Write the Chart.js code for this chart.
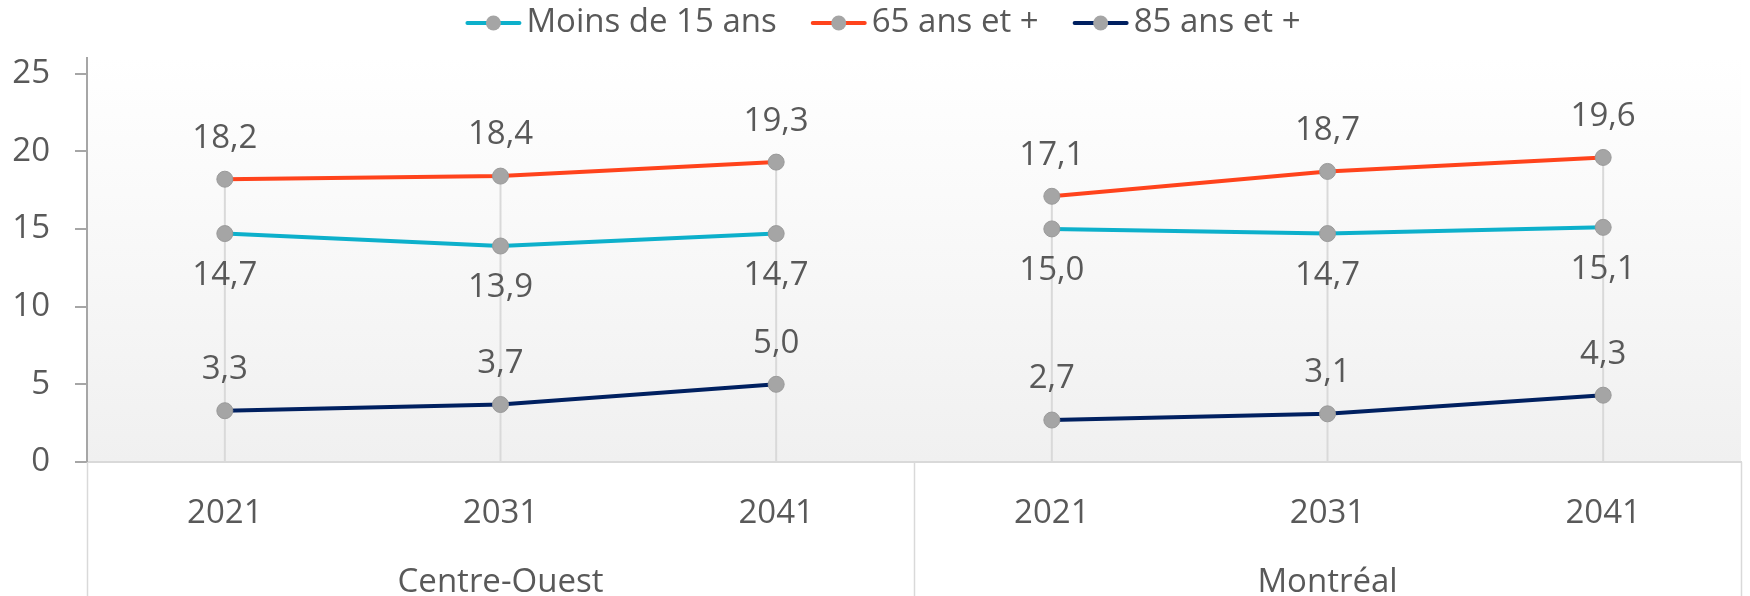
<!DOCTYPE html>
<html>
<head>
<meta charset="utf-8">
<script src="https://cdn.jsdelivr.net/npm/chart.js@4"></script>
<style>
  html, body { margin: 0; padding: 0; background: #fff; }
</style>
</head>
<body>
<canvas id="chart" width="1750" height="596"></canvas>
<script>
const groups = ['Centre-Ouest', 'Montréal'];
const years = ['2021', '2031', '2041'];
const seriesNames = ['Moins de 15 ans', '65 ans et +', '85 ans et +'];
const moins15 = [14.7, 13.9, 14.7, 15.0, 14.7, 15.1];
const plus65 = [18.2, 18.4, 19.3, 17.1, 18.7, 19.6];
const plus85 = [3.3, 3.7, 5.0, 2.7, 3.1, 4.3];
const yTicks = [0, 5, 10, 15, 20, 25];

const textColor = '#595959';
const font = { family: 'Open Sans', size: 33 };
const labels = groups.flatMap(() => years);

function fmt(v) {
    return v.toFixed(1).replace('.', ',');
}

// break the line between the two regions
const gapSegment = {
    borderColor: ctx => ctx.p0DataIndex === years.length - 1 ? 'transparent' : undefined
};

function makeSet(name, data, color, above) {
    return {
        label: name,
        data: data,
        borderColor: color,
        borderWidth: 4,
        pointRadius: 8,
        pointHoverRadius: 8,
        pointBackgroundColor: '#a5a5a5',
        pointBorderColor: '#9a9a9a',
        pointBorderWidth: 1,
        tension: 0,
        segment: gapSegment,
        labelAbove: above
    };
}

const plotBackground = {
    id: 'plotBackground',
    beforeDraw(chart) {
        const { ctx, chartArea: a } = chart;
        const g = ctx.createLinearGradient(0, a.top, 0, a.bottom);
        g.addColorStop(0, '#ffffff');
        g.addColorStop(1, '#f0f0f0');
        ctx.save();
        ctx.fillStyle = g;
        ctx.fillRect(a.left, a.top, a.right - a.left, a.bottom - a.top);
        ctx.restore();
    }
};

// Excel style drop lines from the highest point down to the axis
const dropLines = {
    id: 'dropLines',
    beforeDatasetsDraw(chart) {
        const { ctx, chartArea: a, scales: { x, y } } = chart;
        ctx.save();
        ctx.strokeStyle = '#d9d9d9';
        ctx.lineWidth = 2;
        labels.forEach((_, i) => {
            const top = Math.max(...chart.data.datasets.map(d => d.data[i]));
            const px = x.getPixelForValue(i);
            ctx.beginPath();
            ctx.moveTo(px, y.getPixelForValue(top));
            ctx.lineTo(px, a.bottom);
            ctx.stroke();
        });
        ctx.restore();
    }
};

// separators between the regions, under the axis
const groupLines = {
    id: 'groupLines',
    afterDraw(chart) {
        const { ctx, chartArea: a, scales: { x } } = chart;
        ctx.save();
        ctx.strokeStyle = '#d9d9d9';
        ctx.lineWidth = 1.5;
        for (let g = 0; g <= groups.length; g++) {
            const px = Math.round(x.getPixelForValue(g * years.length - 0.5)) + 0.5;
            ctx.beginPath();
            ctx.moveTo(px, a.bottom);
            ctx.lineTo(px, chart.height);
            ctx.stroke();
        }
        ctx.restore();
    }
};

const valueLabels = {
    id: 'valueLabels',
    afterDatasetsDraw(chart) {
        const { ctx } = chart;
        ctx.save();
        ctx.font = font.size + 'px ' + font.family;
        ctx.fillStyle = textColor;
        ctx.textAlign = 'center';
        ctx.textBaseline = 'middle';
        chart.data.datasets.forEach((ds, di) => {
            chart.getDatasetMeta(di).data.forEach((pt, i) => {
                const dy = ds.labelAbove ? -41 : 42;
                ctx.fillText(fmt(ds.data[i]), pt.x, pt.y + dy);
            });
        });
        ctx.restore();
    }
};

const lineLegend = {
    id: 'lineLegend',
    afterDraw(chart) {
        const { ctx } = chart;
        const sample = 56, gap = 5, spacing = 34, cy = 23;
        ctx.save();
        ctx.font = font.size + 'px ' + font.family;
        const sets = chart.data.datasets;
        const widths = sets.map(d => sample + gap + ctx.measureText(d.label).width);
        const total = widths.reduce((s, w) => s + w, 0) + spacing * (sets.length - 1);
        let left = chart.width / 2 + 8 - total / 2;
        sets.forEach((d, i) => {
            ctx.strokeStyle = d.borderColor;
            ctx.lineWidth = 4;
            ctx.lineCap = 'round';
            ctx.beginPath();
            ctx.moveTo(left + 2, cy);
            ctx.lineTo(left + sample - 2, cy);
            ctx.stroke();
            ctx.fillStyle = '#a5a5a5';
            ctx.beginPath();
            ctx.arc(left + sample / 2, cy, 7.5, 0, Math.PI * 2);
            ctx.fill();
            ctx.fillStyle = textColor;
            ctx.textAlign = 'left';
            ctx.textBaseline = 'middle';
            ctx.fillText(d.label, left + sample + gap, cy);
            left += widths[i] + spacing;
        });
        ctx.restore();
    }
};

new Chart(document.getElementById('chart'), {
    type: 'line',
    data: {
        labels: labels,
        datasets: [
            makeSet(seriesNames[0], moins15, '#0db0cb', false),
            makeSet(seriesNames[1], plus65, '#ff431c', true),
            makeSet(seriesNames[2], plus85, '#002060', true)
        ]
    },
    options: {
        responsive: false,
        animation: false,
        layout: { padding: { top: 58, right: 4, left: 0, bottom: 0 } },
        plugins: {
            legend: { display: false },
            tooltip: { enabled: false }
        },
        scales: {
            x: {
                type: 'category',
                offset: true,
                grid: { display: false },
                border: { display: true, color: '#d9d9d9', width: 2 },
                ticks: { font: font, color: textColor, padding: 24, maxRotation: 0 },
                afterFit: s => { s.height = 67; }
            },
            x2: {
                type: 'category',
                labels: groups,
                position: 'bottom',
                weight: 1,
                offset: true,
                grid: { display: false },
                border: { display: false },
                ticks: { font: font, color: textColor, padding: 26, maxRotation: 0 },
                afterFit: s => { s.height = 67; }
            },
            y: {
                min: 0,
                max: 26,
                grid: { drawOnChartArea: false, drawTicks: true, tickLength: 12, color: '#a6a6a6', lineWidth: 2 },
                border: { display: true, color: '#a6a6a6', width: 2 },
                ticks: { font: font, color: textColor, padding: 25, stepSize: 5 },
                afterBuildTicks: s => { s.ticks = yTicks.map(v => ({ value: v })); },
                afterFit: s => { s.width = 87; }
            }
        }
    },
    plugins: [plotBackground, dropLines, groupLines, valueLabels, lineLegend]
});
</script>
</body>
</html>
